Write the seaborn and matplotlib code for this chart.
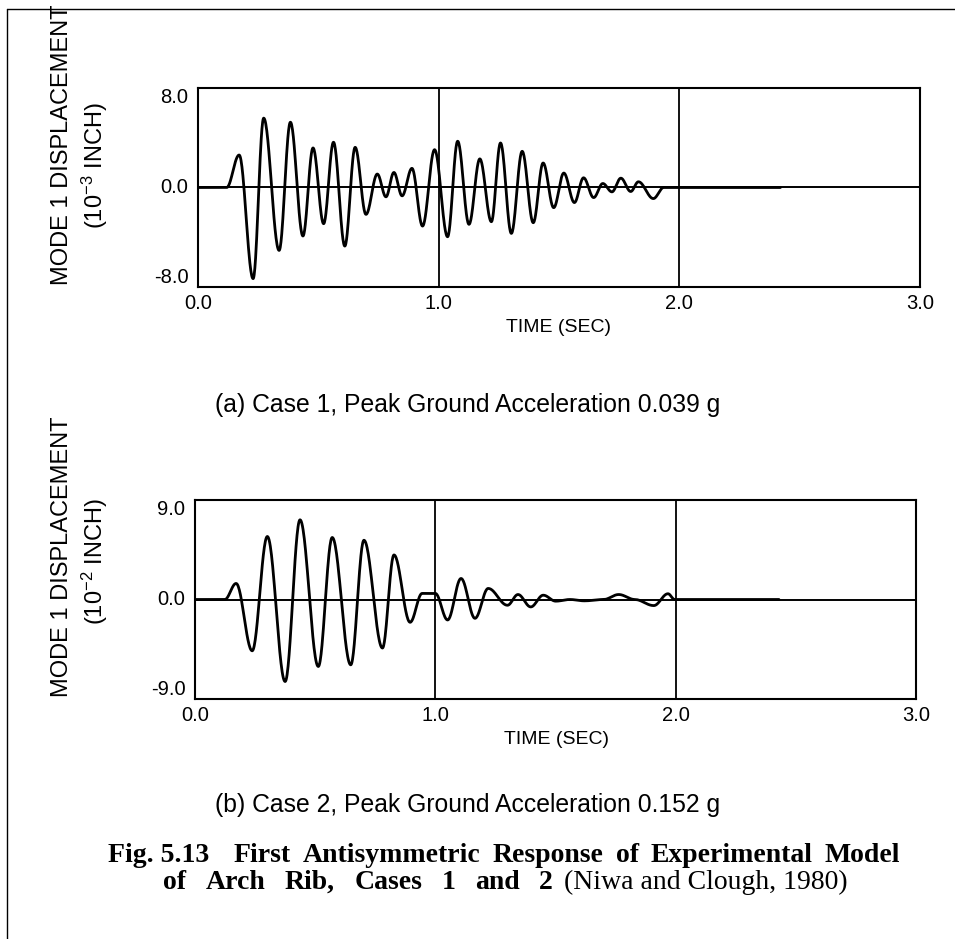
import numpy as np
import pandas as pd
import matplotlib
matplotlib.use("Agg")
import matplotlib.pyplot as plt
import seaborn as sns
from matplotlib.lines import Line2D

time_a = [0.000, 0.119, 0.171, 0.229, 0.273, 0.337, 0.384, 0.436, 0.478, 0.522,
          0.563, 0.610, 0.653, 0.698, 0.745, 0.781, 0.814, 0.848, 0.889, 0.933,
          0.983, 1.037, 1.079, 1.126, 1.171, 1.219, 1.257, 1.302, 1.347, 1.393,
          1.434, 1.478, 1.520, 1.564, 1.602, 1.644, 1.682, 1.720, 1.757, 1.798,
          1.830, 1.892, 1.935, 2.420]
disp_a = [0.00, 0.00, 2.61, -7.33, 5.58, -5.06, 5.25, -3.90, 3.18, -2.91,
          3.64, -4.71, 3.23, -2.16, 1.08, -0.75, 1.21, -0.67, 1.54, -3.10,
          3.04, -3.96, 3.72, -2.96, 2.30, -2.75, 3.58, -3.69, 2.91, -2.83,
          1.97, -1.62, 1.16, -1.21, 0.78, -0.81, 0.32, -0.35, 0.75, -0.32,
          0.46, -0.89, 0.00, 0.00]

time_b = [0.000, 0.124, 0.171, 0.238, 0.301, 0.375, 0.437, 0.513, 0.571, 0.648,
          0.703, 0.780, 0.828, 0.895, 0.945, 1.000, 1.051, 1.107, 1.165, 1.220,
          1.300, 1.344, 1.397, 1.449, 1.501, 1.560, 1.620, 1.700, 1.763, 1.830,
          1.909, 1.968, 1.996, 2.430]
disp_b = [0.00, 0.00, 1.45, -4.64, 5.70, -7.42, 7.21, -6.06, 5.61, -5.91,
          5.36, -4.39, 4.03, -2.06, 0.55, 0.55, -1.85, 1.90, -1.70, 1.00,
          -0.52, 0.45, -0.67, 0.39, -0.15, 0.00, -0.12, 0.00, 0.45, 0.00,
          -0.55, 0.52, 0.00, 0.00]

x_ticks = [0.0, 1.0, 2.0, 3.0]
x_tick_labels = ["0.0", "1.0", "2.0", "3.0"]
y_ticks_a = [-8.0, 0.0, 8.0]
y_tick_labels_a = ["-8.0", "0.0", "8.0"]
y_ticks_b = [-9.0, 0.0, 9.0]
y_tick_labels_b = ["-9.0", "0.0", "9.0"]

ylabel_main = "MODE 1 DISPLACEMENT"
ylabel_unit_a = r"(10$^{-3}$ INCH)"
ylabel_unit_b = r"(10$^{-2}$ INCH)"
xlabel = "TIME (SEC)"
caption_a = "(a) Case 1, Peak Ground Acceleration 0.039 g"
caption_b = "(b) Case 2, Peak Ground Acceleration 0.152 g"
fig_line1_head = "Fig. 5.13"
fig_line1_words = ["First", "Antisymmetric", "Response", "of", "Experimental", "Model"]
fig_line2_bold = ["of", "Arch", "Rib,", "Cases", "1", "and", "2"]
fig_line2_reg = "(Niwa and Clough, 1980)"


def smooth_trace(t, v, n=30):
    """Smooth pen-plotter style curve passing through the extrema (flat tangent at each)."""
    tt, vv = [], []
    for i in range(len(t) - 1):
        s = np.linspace(0, 1, n, endpoint=False)
        w = (1 - np.cos(np.pi * s)) / 2
        tt.extend(t[i] + (t[i + 1] - t[i]) * s)
        vv.extend(v[i] + (v[i + 1] - v[i]) * w)
    tt.append(t[-1])
    vv.append(v[-1])
    return pd.DataFrame({"time": tt, "disp": vv})


sns.set_theme(style="white")
plt.rcParams["font.family"] = ["Liberation Sans", "DejaVu Sans"]
plt.rcParams["mathtext.fontset"] = "custom"
plt.rcParams["mathtext.rm"] = "Liberation Sans"
plt.rcParams["mathtext.it"] = "Liberation Sans"
plt.rcParams["mathtext.default"] = "regular"
plt.rcParams["text.color"] = "black"
plt.rcParams["axes.labelcolor"] = "black"
plt.rcParams["xtick.color"] = "black"
plt.rcParams["ytick.color"] = "black"

W, H = 955, 939
fig = plt.figure(figsize=(W / 100, H / 100), dpi=100)


def fx(x):
    return x / W


def fy(y):
    return 1 - y / H


def make_axes(left, right, top, bottom):
    return fig.add_axes([fx(left), fy(bottom), (right - left) / W, (bottom - top) / H])


ax_a = make_axes(198, 920, 88, 287)
ax_b = make_axes(195, 916, 500, 699)

panels = [
    (ax_a, time_a, disp_a, 8.0, y_ticks_a, y_tick_labels_a),
    (ax_b, time_b, disp_b, 9.0, y_ticks_b, y_tick_labels_b),
]

for ax, t, v, lim, yt, ytl in panels:
    df = smooth_trace(t, v)
    ax.axhline(0, color="black", lw=1.4, zorder=1)
    for xv in [1.0, 2.0]:
        ax.axvline(xv, color="black", lw=1.3, zorder=1)
    sns.lineplot(data=df, x="time", y="disp", ax=ax, color="black", lw=2.0,
                 sort=False, estimator=None, zorder=3)
    ax.set_xlim(0, 3)
    ax.set_ylim(-lim, lim)
    ax.set_xticks(x_ticks)
    ax.set_xticklabels(x_tick_labels)
    ax.set_yticks(yt)
    ax.set_yticklabels(ytl)
    ax.set_xlabel("")
    ax.set_ylabel("")
    ax.tick_params(axis="both", length=0, labelsize=14.5, colors="black")
    ax.tick_params(axis="y", pad=7)
    ax.tick_params(axis="x", pad=5)
    for lbl, va in zip(ax.get_yticklabels(), ["bottom", "center", "top"]):
        lbl.set_verticalalignment(va)
    for sp in ax.spines.values():
        sp.set_visible(True)
        sp.set_color("black")
        sp.set_linewidth(1.5)
    ax.set_facecolor("white")

# axis labels
fig.text(fx(62), fy(145), ylabel_main, rotation=90, ha="center", va="center", fontsize=17)
fig.text(fx(95), fy(166), ylabel_unit_a, rotation=90, ha="center", va="center", fontsize=17)
fig.text(fx(62), fy(557), ylabel_main, rotation=90, ha="center", va="center", fontsize=17)
fig.text(fx(95), fy(562), ylabel_unit_b, rotation=90, ha="center", va="center", fontsize=17)

fig.text(fx(558), fy(328), xlabel, ha="center", va="center", fontsize=14)
fig.text(fx(556), fy(740), xlabel, ha="center", va="center", fontsize=14)

fig.text(fx(468), fy(405), caption_a, ha="center", va="center", fontsize=17.8)
fig.text(fx(468), fy(805), caption_b, ha="center", va="center", fontsize=17.8)

# figure caption (justified, as typeset in the book)
serif = ["Liberation Serif", "DejaVu Serif"]
cap_size = 20
renderer = fig.canvas.get_renderer()


def justify(words, x_left, x_right, y, weight):
    arts = [fig.text(0, fy(y), w, ha="left", va="baseline", fontsize=cap_size,
                     fontweight=weight, family=serif) for w in words]
    widths = [a.get_window_extent(renderer).width for a in arts]
    gap = (x_right - x_left - sum(widths)) / max(len(words) - 1, 1)
    x = x_left
    for a, wdt in zip(arts, widths):
        a.set_x(fx(x))
        x += wdt + gap


fig.text(fx(108), fy(862), fig_line1_head, ha="left", va="baseline", fontsize=cap_size,
         fontweight="bold", family=serif)
justify(fig_line1_words, 234, 900, 862, "bold")
justify(fig_line2_bold, 163, 553, 889, "bold")
fig.text(fx(848), fy(889), fig_line2_reg, ha="right", va="baseline", fontsize=cap_size,
         family=serif)

# page border lines of the scanned page
fig.add_artist(Line2D([fx(7), fx(7)], [fy(9), fy(939)], color="black", lw=1.0))
fig.add_artist(Line2D([fx(7), fx(955)], [fy(9), fy(9)], color="black", lw=1.0))

fig.savefig("out.png", dpi=100, facecolor="white")
